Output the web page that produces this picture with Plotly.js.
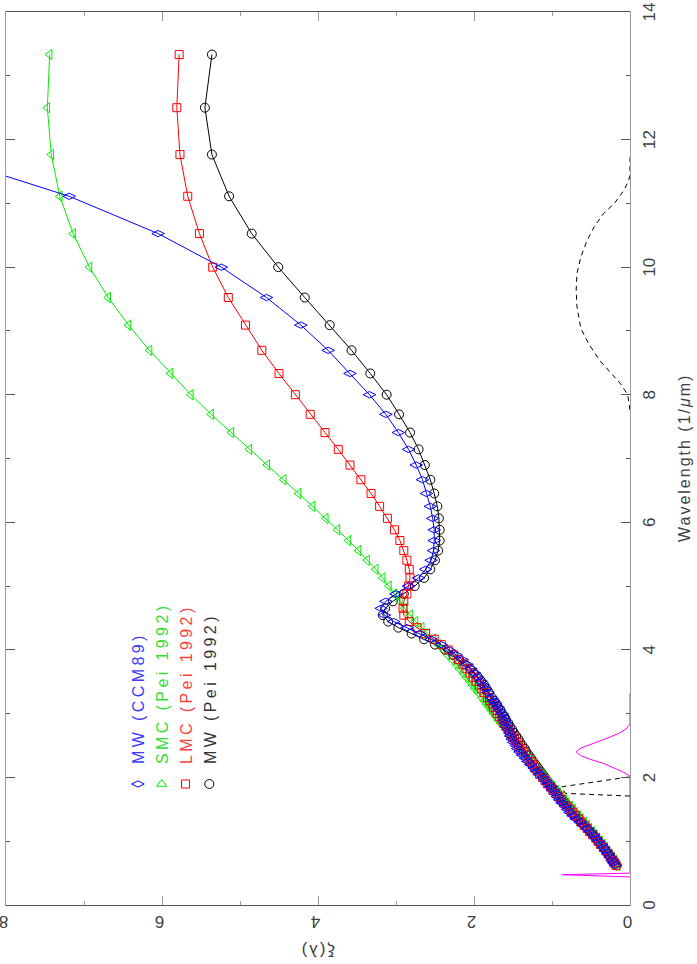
<!DOCTYPE html>
<html>
<head>
<meta charset="utf-8">
<script src="https://cdn.plot.ly/plotly-3.0.1.min.js"></script>
<style>
html,body{margin:0;padding:0;width:697px;height:964px;overflow:hidden;background:#fff;}
#wrap{position:absolute;left:0;top:0;width:964px;height:697px;transform-origin:0 0;transform:translate(0px,964px) rotate(-90deg);}
.legendtext{letter-spacing:3.4px;}
.annotation-text{letter-spacing:2px;}
</style>
</head>
<body>
<div id="wrap"><div id="chart" style="width:964px;height:697px;"></div></div>
<script>
// ---- data (inverse wavelength in 1/um, extinction xi = A_lambda/A_V) ----
const peiInvWav = [13.333,12.5,11.765,11.111,10.526,10.0,9.524,9.091,8.696,8.333,8.0,7.692,7.407,7.143,6.897,6.667,6.452,6.25,6.061,5.882,5.714,5.556,5.405,5.263,5.128,5.0,4.878,4.762,4.651,4.545,4.444,4.348,4.255,4.167,4.082,4.0,3.922,3.846,3.774,3.704,3.636,3.571,3.509,3.448,3.39,3.333,
  3.25,3.2,3.15,3.1,3.05,3.0,2.95,2.9,2.85,2.8,2.75,2.7,2.65,2.6,2.55,2.5,2.45,2.4,2.35,2.3,2.25,2.2,2.15,2.1,2.05,2.0,1.95,1.9,1.85,1.8,1.75,1.7,1.65,1.6,1.55,1.5,1.45,1.4,1.35,1.3,1.25,1.2,1.15,1.1,1.05,1.0,0.95,0.9,0.85,0.8,0.75,0.7,0.66,0.62];
const mwPeiXi = [5.36,5.45,5.36,5.14,4.85,4.51,4.17,3.85,3.57,3.33,3.12,2.96,2.82,2.71,2.63,2.56,2.51,2.47,2.45,2.44,2.44,2.46,2.50,2.56,2.64,2.76,2.90,3.04,3.14,3.17,3.10,2.97,2.80,2.64,2.50,2.37,2.27,2.19,2.12,2.05,2.00,1.95,1.91,1.87,1.84,1.81,
  1.77,1.74,1.71,1.69,1.66,1.64,1.61,1.59,1.56,1.54,1.51,1.49,1.46,1.43,1.41,1.38,1.35,1.33,1.30,1.27,1.24,1.21,1.18,1.15,1.12,1.09,1.06,1.03,1.00,0.96,0.93,0.90,0.86,0.83,0.79,0.76,0.72,0.69,0.65,0.62,0.58,0.55,0.51,0.47,0.44,0.41,0.37,0.34,0.31,0.28,0.25,0.22,0.19,0.17];
const lmcXi = [5.78,5.81,5.77,5.67,5.52,5.35,5.15,4.93,4.72,4.50,4.29,4.10,3.91,3.74,3.59,3.45,3.32,3.21,3.11,3.02,2.95,2.90,2.86,2.83,2.82,2.84,2.86,2.90,2.91,2.90,2.83,2.73,2.62,2.51,2.42,2.33,2.26,2.20,2.14,2.09,2.05,2.01,1.97,1.93,1.90,1.87,
  1.83,1.80,1.77,1.75,1.72,1.70,1.67,1.64,1.62,1.59,1.56,1.54,1.51,1.48,1.45,1.43,1.40,1.37,1.34,1.31,1.28,1.25,1.22,1.19,1.16,1.12,1.09,1.06,1.02,0.99,0.95,0.92,0.88,0.85,0.81,0.77,0.74,0.70,0.66,0.63,0.59,0.55,0.52,0.48,0.44,0.41,0.38,0.34,0.31,0.28,0.25,0.22,0.20,0.18];
const smcXi = [7.44,7.47,7.42,7.31,7.14,6.93,6.69,6.43,6.16,5.89,5.63,5.37,5.11,4.88,4.65,4.44,4.25,4.07,3.90,3.75,3.61,3.48,3.37,3.26,3.17,3.09,3.02,2.95,2.89,2.82,2.75,2.67,2.60,2.52,2.46,2.39,2.34,2.28,2.23,2.19,2.14,2.10,2.06,2.02,1.99,1.95,
  1.90,1.87,1.84,1.81,1.78,1.75,1.72,1.69,1.66,1.62,1.59,1.56,1.53,1.50,1.47,1.43,1.40,1.37,1.34,1.30,1.27,1.24,1.20,1.17,1.13,1.10,1.06,1.03,0.99,0.95,0.92,0.88,0.84,0.81,0.77,0.73,0.70,0.66,0.63,0.59,0.55,0.52,0.48,0.45,0.42,0.38,0.35,0.32,0.29,0.26,0.23,0.20,0.18,0.16];

const ccmInvWav = [11.765,11.111,10.526,10.0,9.524,9.091,8.696,8.333,8.0,7.692,7.407,7.143,6.897,6.667,6.452,6.25,6.061,5.882,5.714,5.556,5.405,5.263,5.128,5.0,4.878,4.762,4.651,4.545,4.444,4.348,4.255,4.167,4.082,4.0,3.922,3.846,3.774,3.704,3.636,3.571,3.509,3.448,3.39,3.333,
  3.25,3.2,3.15,3.1,3.05,3.0,2.95,2.9,2.85,2.8,2.75,2.7,2.65,2.6,2.55,2.5,2.45,2.4,2.35,2.3,2.25,2.2,2.15,2.1,2.05,2.0,1.95,1.9,1.85,1.8,1.75,1.7,1.65,1.6,1.55,1.5,1.45,1.4,1.35,1.3,1.25,1.2,1.15,1.1,1.05,1.0,0.95,0.9,0.85,0.8,0.75,0.7,0.66,0.62];
const ccmXi = [8.87,7.19,6.05,5.24,4.66,4.22,3.87,3.59,3.34,3.13,2.97,2.84,2.74,2.66,2.61,2.56,2.53,2.51,2.51,2.52,2.55,2.62,2.71,2.84,3.00,3.13,3.19,3.15,3.03,2.86,2.70,2.55,2.42,2.32,2.23,2.15,2.09,2.04,1.99,1.95,1.91,1.88,1.85,1.82,
  1.78,1.75,1.72,1.69,1.67,1.64,1.62,1.61,1.59,1.58,1.56,1.54,1.53,1.51,1.49,1.46,1.44,1.41,1.38,1.34,1.31,1.27,1.23,1.20,1.16,1.12,1.09,1.05,1.02,0.99,0.96,0.93,0.90,0.87,0.83,0.80,0.77,0.73,0.69,0.64,0.60,0.55,0.51,0.47,0.44,0.40,0.37,0.34,0.31,0.28,0.25,0.23,0.21,0.19];

const magentaInvWav = [0.44,0.475,0.50,2.02,2.08,2.16,2.22,2.28,2.34,2.40,2.46,2.52,2.58,2.64,2.70,2.76,2.84,3.32];
const magentaXi     = [0,0.87,0,0,0.08,0.22,0.34,0.50,0.63,0.69,0.63,0.50,0.36,0.24,0.13,0.05,0,0];

const dashInvWav = [1.708,1.75,1.853,2.01,null,7.76,8.0,8.17,8.33,8.54,8.8,9.04,9.38,9.64,9.9,10.16,10.42,10.63,10.84,11.0,11.2,11.35,11.44,11.72];
const dashXi     = [0,0.83,0.875,0,null,0,0.03,0.12,0.24,0.39,0.53,0.63,0.68,0.69,0.68,0.63,0.55,0.46,0.34,0.20,0.08,0.02,0,0];

const wavTicks = [0,2,4,6,8,10,12,14];
const wavMinor = [1,3,5,7,9,11,13];
const xiTicks = [0,2,4,6,8];
const xiMinor = [1,3,5,7];

const seriesNames = ['MW (CCM89)','SMC (Pei 1992)','LMC (Pei 1992)','MW (Pei 1992)'];
const seriesColors = ['#0000ff','#00ee00','#ff0000','#000000'];
const legendTextColors = ['#3a3aff','#33dd33','#ff4040','#333333'];

// ---- traces ----
const traces = [];
const legendSymbols = ['diamond-tall-open','triangle-right-open','square-open','circle-open'];
const legendSizes = [9,9,8,9];
for (let i = 0; i < 4; i++) {
  traces.push({
    x:[null], y:[null], type:'scatter', mode:'markers',
    name:'<span style="color:' + legendTextColors[i] + '">' + seriesNames[i] + '</span>',
    marker:{symbol:legendSymbols[i], size:legendSizes[i], color:seriesColors[i], line:{width:1, color:seriesColors[i]}},
    showlegend:true, hoverinfo:'skip'
  });
}
traces.push({x:magentaInvWav, y:magentaXi, type:'scatter', mode:'lines', line:{color:'#ff00ff', width:1}, showlegend:false});
traces.push({x:dashInvWav, y:dashXi, type:'scatter', mode:'lines', connectgaps:false, line:{color:'#000000', width:1, dash:'5px,4px'}, showlegend:false});
traces.push({x:peiInvWav, y:mwPeiXi, type:'scatter', mode:'lines+markers', line:{color:seriesColors[3], width:1},
  marker:{symbol:'circle-open', size:9, color:seriesColors[3], line:{width:1, color:seriesColors[3]}}, showlegend:false});
traces.push({x:peiInvWav, y:smcXi, type:'scatter', mode:'lines+markers', line:{color:seriesColors[1], width:1},
  marker:{symbol:'triangle-up-open', size:9, color:seriesColors[1], line:{width:1, color:seriesColors[1]}}, showlegend:false});
traces.push({x:peiInvWav, y:lmcXi, type:'scatter', mode:'lines+markers', line:{color:seriesColors[2], width:1},
  marker:{symbol:'square-open', size:8, color:seriesColors[2], line:{width:1, color:seriesColors[2]}}, showlegend:false});
traces.push({x:ccmInvWav, y:ccmXi, type:'scatter', mode:'lines', line:{color:seriesColors[0], width:1}, showlegend:false});
traces.push({x:ccmInvWav.slice(1), y:ccmXi.slice(1), type:'scatter', mode:'markers',
  marker:{symbol:'diamond-tall-open', size:9, color:seriesColors[0], line:{width:1, color:seriesColors[0]}}, showlegend:false});

const fontFam = 'Liberation Sans, Arial, sans-serif';
const layout = {
  width:964, height:697,
  margin:{l:59, r:12, t:6, b:67, pad:0},
  paper_bgcolor:'#ffffff', plot_bgcolor:'#ffffff',
  font:{family:fontFam, size:17, color:'#404040'},
  showlegend:true,
  legend:{x:0.1131, xanchor:'left', y:0.8157, yanchor:'top', bgcolor:'rgba(0,0,0,0)', borderwidth:0,
          font:{family:fontFam, size:16, color:'#404040'}, tracegroupgap:0},
  xaxis:{range:[0,14], tickmode:'array', tickvals:wavTicks, ticktext:wavTicks.map(String),
         ticks:'inside', ticklen:9, tickwidth:1, tickcolor:'#555555',
         minor:{tickmode:'array', tickvals:wavMinor, ticks:'inside', ticklen:4, tickwidth:1, tickcolor:'#555555', showgrid:false},
         showline:true, linecolor:'#9a9a9a', linewidth:1, mirror:'ticks', showgrid:false, zeroline:false,
         tickfont:{family:fontFam, size:17, color:'#404040'}, ticklabelstandoff:4, ticklabeloverflow:'allow'},
  yaxis:{range:[0,8], tickmode:'array', tickvals:xiTicks, ticktext:xiTicks.map(String),
         ticks:'inside', ticklen:9, tickwidth:1, tickcolor:'#9a9a9a', tickangle:-90,
         minor:{tickmode:'array', tickvals:xiMinor, ticks:'inside', ticklen:4, tickwidth:1, tickcolor:'#9a9a9a', showgrid:false},
         showline:true, linecolor:'#555555', linewidth:1, mirror:'ticks', showgrid:false, zeroline:false,
         tickfont:{family:fontFam, size:17, color:'#404040'}, ticklabelstandoff:3, ticklabeloverflow:'allow'},
  annotations:[
    {text:'ξ(λ)', xref:'paper', yref:'paper', x:-0.0515, y:0.5, xanchor:'center', yanchor:'middle',
     textangle:-90, showarrow:false, font:{family:fontFam, size:17, color:'#404040'}},
    {text:'Wavelength (1/<i>μ</i>m)', xref:'paper', yref:'paper', x:0.5004, y:-0.0881, xanchor:'center', yanchor:'middle',
     showarrow:false, font:{family:fontFam, size:16, color:'#404040'}}
  ]
};

Plotly.newPlot('chart', traces, layout, {staticPlot:true, displayModeBar:false});
</script>
</body>
</html>
